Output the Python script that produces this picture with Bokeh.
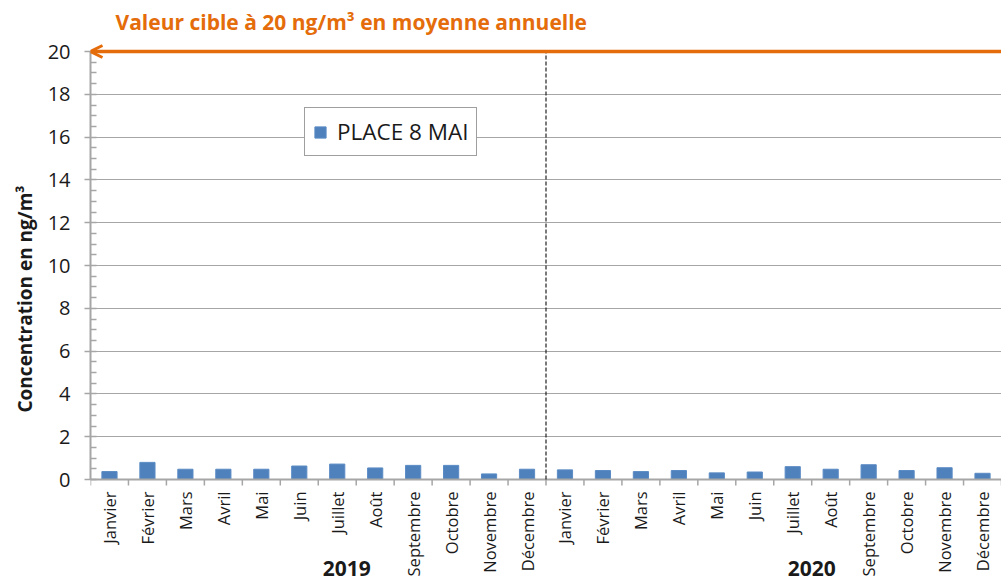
import math
from bokeh.plotting import figure
from bokeh.models import (FixedTicker, Arrow, OpenHead, Title,
                          Legend, LegendItem, ColumnDataSource, Range1d)
from bokeh.embed import file_html
from bokeh.resources import INLINE

months = ["Janvier", "Février", "Mars", "Avril", "Mai", "Juin", "Juillet",
          "Août", "Septembre", "Octobre", "Novembre", "Décembre"]
years = ["2019", "2020"]
values_2019 = [0.37, 0.80, 0.48, 0.48, 0.48, 0.63, 0.72, 0.54, 0.66, 0.66, 0.26, 0.48]
values_2020 = [0.45, 0.42, 0.37, 0.42, 0.31, 0.35, 0.60, 0.48, 0.69, 0.42, 0.55, 0.29]
target_value = 20
series_name = "PLACE 8 MAI"
title_text = "Valeur cible à 20 ng/m³ en moyenne annuelle"
y_label_text = "Concentration en ng/m³"
y_ticks = list(range(0, 21, 2))

FONT = "Open Sans"
ORANGE = "#E46C0A"
BLUE = "#4F81BD"
GRID = "#A6A6A6"
TXT = "#1a1a1a"

W, H = 1001, 581
LEFT, TOP = 90, 40            # frame position in pixels
Y0_PX, Y20_PX = 479, 51       # pixel rows of y=0 and y=20
ppu = (Y0_PX - Y20_PX) / 20.0 # pixels per y unit
y_lo = -(H - Y0_PX) / ppu
y_hi = 20 + (Y20_PX - TOP) / ppu

SLOT = 4                      # x units per month
labels = months + months
vals = values_2019 + values_2020
n = len(vals)
xs = [SLOT * i + SLOT / 2 for i in range(n)]
src = ColumnDataSource(dict(x=xs, top=vals, label=labels))
bounds_x = [SLOT * i for i in range(n + 1)]

p = figure(width=W, height=H, x_range=Range1d(0, SLOT * n), y_range=Range1d(y_lo, y_hi),
           output_backend="svg", toolbar_location=None, x_axis_location=None,
           min_border_left=LEFT, min_border_right=0, min_border_top=TOP, min_border_bottom=0)
p.outline_line_color = None
p.background_fill_color = "white"
p.border_fill_color = "white"

# title
p.title.text = title_text
p.title.align = "left"
p.title.offset = 25
p.title.text_font = FONT
p.title.text_font_size = "21px"
p.title.text_font_style = "bold"
p.title.text_color = ORANGE

# grid
for g in p.grid:
    if g.dimension == 0:
        g.visible = False
p.ygrid.ticker = FixedTicker(ticks=[t for t in y_ticks if 0 < t < 20])
p.ygrid.grid_line_color = GRID
p.ygrid.grid_line_width = 1

bars = p.vbar(x="x", top="top", width=SLOT * 0.4, source=src, fill_color=BLUE,
              line_color="#5B8BC4")

# y axis
ya = p.yaxis[0]
ya.bounds = (0, 20)
ya.ticker = FixedTicker(ticks=y_ticks, minor_ticks=[i * 0.5 for i in range(41)])
ya.axis_line_color = GRID
ya.axis_line_width = 2
ya.major_tick_line_color = GRID
ya.major_tick_line_width = 1.5
ya.major_tick_out = 6
ya.major_tick_in = 0
ya.minor_tick_line_color = GRID
ya.minor_tick_line_width = 1.5
ya.minor_tick_in = 6
ya.minor_tick_out = 0
ya.major_label_text_font = FONT
ya.major_label_text_font_size = "20px"
ya.major_label_text_color = TXT
ya.major_label_standoff = 14

# y title on the left side; starts 412px down the page
ytitle = Title(text=y_label_text, align="left", offset=H - 412, vertical_align="top",
               text_font=FONT, text_font_size="19px", text_font_style="bold", text_color=TXT)
p.add_layout(ytitle, "left")

# x axis line and boundary ticks
tick_len = 6 / ppu
p.segment(x0=[0], y0=[0], x1=[SLOT * n], y1=[0], line_color=GRID, line_width=2)
p.segment(x0=bounds_x, y0=[0] * len(bounds_x), x1=bounds_x, y1=[-tick_len] * len(bounds_x),
          line_color=GRID, line_width=1.5)

# month labels
p.text(x="x", y=0, text="label", source=src, angle=math.pi / 2, y_offset=12,
       text_align="right", text_baseline="middle", text_font={"value": FONT},
       text_font_size="16.5px", text_color=TXT)

# year labels
p.text(x=[27, 76], y=[0, 0], text=years, y_offset=89, text_align="center",
       text_baseline="middle", text_font={"value": FONT}, text_font_size="21px",
       text_font_style="bold", text_color=TXT)

# separator between years
p.segment(x0=[SLOT * 12], y0=[0], x1=[SLOT * 12], y1=[20], line_color="#222222",
          line_width=1.2, line_dash="4 2")

# target arrow
p.add_layout(Arrow(end=OpenHead(size=12, line_color=ORANGE, line_width=3),
                   x_start=SLOT * n, y_start=target_value, x_end=0, y_end=target_value,
                   line_color=ORANGE, line_width=3.5))

legend = Legend(items=[LegendItem(label=series_name, renderers=[bars])],
                location=(214, H - 156), label_text_font=FONT, label_text_font_size="22.5px",
                label_text_color=TXT, glyph_width=14, glyph_height=14, padding=8,
                label_standoff=10, spacing=0, margin=0, border_line_color="#404040",
                border_line_width=1.5, background_fill_color="white", background_fill_alpha=1)
p.add_layout(legend, "center")

open("out.html", "w").write(file_html(p, INLINE))
